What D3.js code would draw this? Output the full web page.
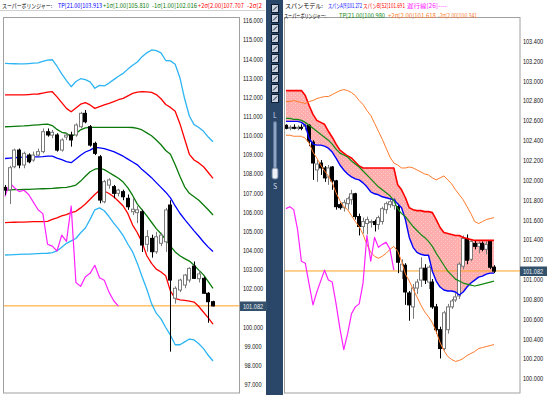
<!DOCTYPE html>
<html>
<head>
<meta charset="utf-8">
<script src="https://cdn.jsdelivr.net/npm/d3@7"></script>
<style>
html, body { margin: 0; padding: 0; background: #fff; }
svg { display: block; font-family: "Noto Sans CJK JP", "DejaVu Sans", sans-serif; }
</style>
</head>
<body>
<svg id="chart" width="547" height="395"></svg>
<script>
// ---- left panel (daily, super bollinger) ----
const leftOpen  = [107.27,107.15,108.35,109.22,108.44,108.96,108.70,108.96,109.14,110.18,110.00,110.01,109.22,109.90,110.01,110.01,110.44,111.14,110.44,109.57,108.87,106.52,107.39,107.31,106.96,107.05,106.70,106.00,105.95,106.00,104.30,104.61,103.91,104.35,104.43,106.35,101.48,101.91,102.17,102.43,103.16,102.50,102.52,101.74,101.30];
const leftHigh  = [107.39,108.40,109.30,109.30,109.14,109.05,109.14,109.30,110.35,110.35,110.27,110.10,109.84,110.10,110.18,110.62,111.22,111.31,110.53,109.66,108.96,107.66,107.75,107.40,107.20,107.15,106.90,106.70,106.30,106.10,105.04,104.80,104.95,104.90,106.20,106.60,102.10,102.50,102.75,103.10,103.40,102.95,102.60,101.80,101.35];
const leftLow   = [106.87,106.40,108.27,108.27,108.27,108.53,108.61,108.90,109.05,109.92,109.84,109.14,109.14,109.75,109.40,109.92,110.35,110.62,109.40,108.96,106.44,106.44,107.20,106.70,106.80,106.60,106.10,105.83,105.40,103.90,103.91,103.60,103.80,104.20,103.90,98.69,101.20,101.80,102.00,102.30,102.50,102.30,101.74,100.20,101.05];
const leftClose = [107.13,108.30,109.22,108.44,109.05,108.61,108.96,109.14,110.18,110.01,110.15,109.22,109.75,110.00,109.75,110.53,111.14,110.70,109.48,109.05,106.61,107.57,107.66,106.96,107.13,106.78,106.26,106.13,106.10,104.26,104.70,103.91,104.69,104.78,106.09,102.43,102.00,102.43,102.69,103.04,102.52,102.75,101.74,101.30,101.08];

const leftPlus3  = [113.75,113.74,113.73,113.72,113.72,113.74,113.76,113.78,113.85,113.92,113.94,113.6,113.2,112.85,112.53,112.8,112.95,112.9,112.78,112.45,112.6,112.57,112.72,112.9,113.08,113.23,113.45,113.65,113.82,114.1,114.3,114.45,114.42,114.3,113.9,113.88,113.7,113.0,111.9,111.0,110.55,110.4,110.2,109.9,109.66];
const leftPlus2  = [112.1,112.1,112.1,112.1,112.1,112.12,112.14,112.15,112.2,112.25,112.27,112.0,111.7,111.4,111.22,111.42,111.62,111.7,111.58,111.4,111.49,111.58,111.66,111.75,111.85,111.92,112.05,112.18,112.25,112.27,112.26,112.23,112.12,111.9,111.6,111.45,111.25,110.6,109.8,109.0,108.7,108.55,108.35,108.05,107.74];
const leftPlus1  = [110.44,110.45,110.46,110.47,110.48,110.5,110.52,110.54,110.56,110.58,110.5,110.3,110.15,110.1,109.92,110.08,110.28,110.38,110.41,110.41,110.41,110.41,110.41,110.41,110.41,110.41,110.41,110.4,110.35,110.27,110.12,109.97,109.75,109.5,109.2,109.0,108.45,107.85,107.3,106.96,106.78,106.6,106.35,106.1,105.83];
const leftTP     = [108.78,108.8,108.82,108.84,108.85,108.86,108.87,108.87,108.88,108.9,108.9,108.8,108.72,108.62,108.56,108.75,108.95,109.12,109.22,109.36,109.33,109.3,109.22,109.14,109.02,108.9,108.75,108.6,108.45,108.2,108.0,107.78,107.52,107.27,107.02,106.72,106.3,105.92,105.6,105.3,105.0,104.72,104.42,104.15,103.92];
const leftMinus1 = [107.13,107.14,107.15,107.15,107.16,107.17,107.18,107.19,107.2,107.21,107.22,107.24,107.26,107.27,107.32,107.39,107.6,107.85,108.09,108.22,108.27,108.2,108.05,107.9,107.75,107.55,107.25,106.85,106.4,106.1,105.78,105.45,105.12,104.85,104.55,104.2,103.9,103.7,103.55,103.42,103.2,102.95,102.7,102.35,102.0];
const leftMinus2 = [105.43,105.44,105.45,105.46,105.46,105.47,105.48,105.48,105.48,105.5,105.6,105.68,105.78,105.85,105.95,106.02,106.2,106.4,106.65,106.9,107.12,107.08,106.95,106.78,106.55,106.3,105.9,105.3,104.9,104.4,103.7,103.3,103.0,102.85,102.65,101.85,101.47,101.4,101.37,101.33,101.28,101.05,100.75,100.45,100.13];
const leftMinus3 = [103.74,103.75,103.76,103.77,103.78,103.79,103.8,103.81,103.82,103.83,103.86,103.95,104.15,104.35,104.48,104.6,104.9,105.15,105.6,106.1,106.2,106.05,105.75,105.4,105.1,104.75,104.3,103.9,103.3,102.6,101.95,101.2,100.7,100.4,99.95,99.55,99.05,99.05,99.2,99.35,99.3,99.1,98.85,98.5,98.2];
const leftLag    = [106.8,107.5,107.25,107.05,107.12,106.9,106.5,106.1,105.9,104.3,104.2,103.95,104.78,104.45,106.3,102.3,102.1,102.6,102.78,103.2,102.55,102.42,101.8,101.35,101.07];
// 101.000 is hidden under the price tag in the picture
const leftTicks  = [97, 98, 99, 100, 102, 103, 104, 105, 106, 107, 108, 109, 110, 111, 112, 113, 114, 115, 116];

// ---- right panel (span model + super bollinger) ----
const rightOpen  = [102.55,102.52,102.53,102.52,102.53,102.54,102.55,102.38,102.10,102.17,102.12,102.03,102.13,101.99,101.75,101.72,101.76,101.80,101.86,101.63,101.53,101.56,101.57,101.58,101.55,101.58,101.70,101.75,101.74,101.73,101.08,101.14,100.86,100.72,100.91,100.99,101.11,100.97,100.97,100.72,100.49,100.30,100.49,100.72,100.79,100.83,101.13,101.41,101.20,101.36,101.33,101.36,101.30,101.38,101.12];
const rightHigh  = [102.56,102.55,102.56,102.55,102.56,102.58,102.56,102.40,102.20,102.20,102.14,102.15,102.14,102.00,101.77,101.80,101.83,101.90,101.87,101.66,101.62,101.63,101.60,101.60,101.64,101.73,101.78,101.80,101.82,101.76,101.20,101.16,100.88,100.95,101.00,101.22,101.15,101.14,101.00,100.75,100.52,100.68,100.75,100.80,100.86,101.17,101.44,101.45,101.40,101.39,101.38,101.38,101.38,101.39,101.14];
const rightLow   = [102.51,102.50,102.51,102.50,102.50,102.50,102.34,102.00,101.98,102.05,101.98,101.95,101.90,101.70,101.70,101.68,101.70,101.75,101.60,101.44,101.46,101.45,101.52,101.48,101.50,101.55,101.66,101.72,101.70,101.06,101.00,100.74,100.58,100.60,100.85,100.92,100.95,100.90,100.70,100.45,100.20,100.28,100.45,100.70,100.77,100.80,101.10,101.15,101.18,101.30,101.26,101.28,101.25,101.10,101.06];
const rightClose = [102.52,102.53,102.52,102.53,102.52,102.55,102.39,102.17,102.16,102.12,102.02,102.12,101.99,101.73,101.72,101.77,101.81,101.86,101.63,101.53,101.58,101.60,101.58,101.55,101.62,101.71,101.76,101.78,101.80,101.17,101.15,100.87,100.74,100.91,100.97,101.11,100.99,101.12,100.72,100.49,100.30,100.66,100.72,100.78,100.82,101.15,101.41,101.19,101.38,101.33,101.36,101.30,101.35,101.12,101.08];

const spanA = [102.59,102.59,102.59,102.59,102.58,102.55,102.42,102.36,102.35,102.35,102.34,102.32,102.28,102.22,102.15,102.1,102.06,102.03,102.01,102.0,101.97,101.93,101.88,101.86,101.85,101.83,101.82,101.81,101.8,101.76,101.72,101.6,101.42,101.32,101.27,101.25,101.24,101.24,101.08,100.98,100.92,100.89,100.88,100.88,100.87,100.84,100.87,100.92,100.96,100.99,101.02,101.03,101.05,101.06,101.06];
const spanB = [102.9,102.9,102.9,102.9,102.9,102.85,102.75,102.66,102.6,102.58,102.56,102.49,102.43,102.36,102.3,102.27,102.24,102.22,102.18,102.14,102.12,102.12,102.12,102.12,102.12,102.12,102.12,102.12,102.12,101.95,101.9,101.82,101.72,101.7,101.69,101.69,101.68,101.68,101.67,101.6,101.52,101.47,101.46,101.45,101.44,101.44,101.42,101.41,101.4,101.39,101.39,101.39,101.39,101.39,101.39];
const rightTP = [102.62,102.62,102.61,102.61,102.6,102.58,102.55,102.52,102.49,102.46,102.43,102.4,102.36,102.31,102.27,102.25,102.23,102.19,102.16,102.13,102.09,102.05,102.01,101.97,101.93,101.9,101.87,101.84,101.79,101.71,101.66,101.63,101.58,101.53,101.49,101.45,101.42,101.38,101.33,101.26,101.2,101.14,101.08,101.04,101.0,100.98,100.96,100.95,100.94,100.93,100.94,100.95,100.96,100.97,100.98];
const rightPlus2 = [102.79,102.79,102.8,102.79,102.78,102.77,102.79,102.8,102.82,102.83,102.84,102.84,102.86,102.88,102.9,102.91,102.9,102.88,102.85,102.8,102.76,102.7,102.65,102.57,102.49,102.41,102.32,102.23,102.17,102.15,102.12,102.12,102.13,102.12,102.1,102.08,102.06,102.05,102.02,102.0,102.02,102.04,102.0,101.96,101.9,101.85,101.8,101.73,101.66,101.58,101.56,101.58,101.6,101.61,101.62];
const rightMinus2 = [102.45,102.45,102.44,102.44,102.44,102.42,102.37,102.28,102.22,102.15,102.09,102.04,101.97,101.87,101.79,101.73,101.7,101.64,101.58,101.53,101.45,101.35,101.27,101.23,101.21,101.23,101.26,101.3,101.33,101.28,101.18,101.05,100.98,100.9,100.82,100.74,100.67,100.62,100.56,100.47,100.36,100.28,100.22,100.19,100.17,100.18,100.2,100.23,100.25,100.27,100.3,100.31,100.32,100.33,100.34];
const rightLag = [101.71,101.73,101.7,101.5,101.18,101.16,100.95,100.74,100.87,100.98,101.09,100.99,100.97,100.75,100.5,100.29,100.45,100.65,100.72,100.75,100.96,101.44,101.18,101.42,101.32,101.35,101.37,101.3,101.09];
const rightTicks = d3.range(0, 18).map(i => +(100 + i * 0.2).toFixed(1));

const lastPrice = 101.082;

const svg = d3.select('#chart');
const fmt = d3.format('.3f');

const defs = svg.append('defs');
const pat = defs.append('pattern').attr('id', 'cloudDots').attr('width', 4).attr('height', 4).attr('patternUnits', 'userSpaceOnUse');
pat.append('rect').attr('width', 4).attr('height', 4).attr('fill', '#ffadad');
pat.append('rect').attr('x', 1).attr('y', 1).attr('width', 1).attr('height', 1).attr('fill', '#ffcccc');
pat.append('rect').attr('x', 3).attr('y', 3).attr('width', 1).attr('height', 1).attr('fill', '#ffcccc');
defs.append('clipPath').attr('id', 'clipL').append('rect').attr('x', 4).attr('y', 18).attr('width', 235).attr('height', 375);
defs.append('clipPath').attr('id', 'clipR').append('rect').attr('x', 285).attr('y', 18).attr('width', 235).attr('height', 375);

// frames
svg.append('rect').attr('x', 3.5).attr('y', 17.5).attr('width', 236).attr('height', 375.5).attr('fill', '#fff').attr('stroke', '#a0a0a0');
svg.append('rect').attr('x', 284.5).attr('y', 17.5).attr('width', 235.5).attr('height', 375.5).attr('fill', '#fff').attr('stroke', '#a0a0a0');
svg.append('line').attr('x1', 0).attr('x2', 265).attr('y1', 10.5).attr('y2', 10.5).attr('stroke', '#d0d0d0');

// toolbar strip between the panels
const bar = svg.append('g');
bar.append('rect').attr('x', 266).attr('y', 0).attr('width', 17).attr('height', 395).attr('fill', '#2a4668');
d3.range(10).forEach(k => {
  const y = 4 + k * 10;
  bar.append('rect').attr('x', 271.5).attr('y', y + 0.5).attr('width', 7).attr('height', 8).attr('fill', '#c9d2de').attr('stroke', '#0c1c33');
  bar.append('path').attr('d', `M273,${y + 6.5}L277,${y + 2.5}`).attr('stroke', '#0c1c33').attr('stroke-width', 1);
});
bar.append('text').attr('x', 275).attr('y', 118).attr('text-anchor', 'middle').attr('font-size', 7).attr('fill', '#cfd8e6').text('L');
bar.append('rect').attr('x', 273.5).attr('y', 121.5).attr('width', 3).attr('height', 56).attr('rx', 1.5).attr('fill', '#8fa6c4').attr('stroke', '#5d7699');
bar.append('rect').attr('x', 272).attr('y', 168).attr('width', 6).attr('height', 11).attr('rx', 2).attr('fill', '#eef2f7').attr('stroke', '#6a7f9c');
bar.append('text').attr('x', 275).attr('y', 189).attr('text-anchor', 'middle').attr('font-size', 7).attr('fill', '#cfd8e6').text('S');

// condensed header text: squeeze each piece into the width it has in the picture
function headText(g, x, y, str, color, len) {
  const t = g.append('text').attr('font-size', 6.2).attr('fill', color).text(str);
  const w = t.node().getComputedTextLength();
  t.attr('transform', `translate(${x},${y}) scale(${(len / w).toFixed(3)},1)`);
}

function drawCandles(g, x, y, o, h, l, c, w) {
  const idx = d3.range(c.length);
  g.selectAll('line.wick').data(idx).join('line')
    .attr('x1', i => Math.round(x(i)) + 0.5).attr('x2', i => Math.round(x(i)) + 0.5)
    .attr('y1', i => y(h[i])).attr('y2', i => y(l[i]))
    .attr('stroke', i => c[i] < o[i] ? '#000' : '#7a7a7a').attr('stroke-width', 1);
  g.selectAll('rect.body').data(idx).join('rect')
    .attr('x', i => Math.round(x(i)) - (w - 1) / 2)
    .attr('y', i => y(Math.max(o[i], c[i])))
    .attr('width', w - 1)
    .attr('height', i => Math.max(1, Math.abs(y(o[i]) - y(c[i]))))
    .attr('fill', i => c[i] < o[i] ? '#000' : '#fff')
    .attr('stroke', i => c[i] < o[i] ? '#000' : '#7a7a7a').attr('stroke-width', 1);
}

function drawLine(g, x, y, values, color, width) {
  const line = d3.line().x((d, i) => x(i)).y(d => y(d));
  g.append('path').attr('d', line(values)).attr('fill', 'none').attr('stroke', color).attr('stroke-width', width).attr('stroke-linejoin', 'round');
}

function priceAxis(xPos, y, ticks) {
  const axis = d3.axisRight(y).tickValues(ticks).tickFormat(fmt).tickSize(0).tickPadding(0);
  const ag = svg.append('g').attr('transform', `translate(${xPos},0)`).call(axis);
  ag.select('.domain').remove();
  ag.selectAll('text').attr('x', 0).attr('dy', '0.35em').attr('text-anchor', 'middle').attr('fill', '#111')
    .attr('font-family', 'Liberation Sans').attr('font-size', 7)
    .attr('transform', 'scale(0.8,1)');
  return ag;
}

function priceTag(xPos, y) {
  const yy = Math.round(y(lastPrice));
  const g = svg.append('g');
  g.append('rect').attr('x', xPos - 13).attr('y', yy - 4.5).attr('width', 27).attr('height', 9.5).attr('fill', '#34516b');
  g.append('text').attr('transform', `translate(${xPos},${yy + 2.5}) scale(0.8,1)`).attr('text-anchor', 'middle')
    .attr('font-family', 'Liberation Sans').attr('font-size', 7).attr('fill', '#e8eef5').text(fmt(lastPrice));
}

// ---------------- left panel ----------------
const lx = d3.scaleLinear().domain([0, leftClose.length - 1]).range([5, 213]);
const ly = d3.scaleLinear().domain([97, 116]).range([384, 20.3]);
const gl = svg.append('g').attr('clip-path', 'url(#clipL)');

gl.append('line').attr('x1', 4).attr('x2', 240).attr('y1', ly(lastPrice)).attr('y2', ly(lastPrice)).attr('stroke', '#ffa020').attr('stroke-width', 1);
drawLine(gl, lx, ly, leftPlus3, '#2db4f4', 1.3);
drawLine(gl, lx, ly, leftMinus3, '#2db4f4', 1.3);
drawLine(gl, lx, ly, leftPlus2, '#ff0000', 1.3);
drawLine(gl, lx, ly, leftMinus2, '#ff0000', 1.3);
drawLine(gl, lx, ly, leftPlus1, '#0a7a0a', 1.3);
drawLine(gl, lx, ly, leftMinus1, '#0a7a0a', 1.3);
drawLine(gl, lx, ly, leftTP, '#0000ff', 1.3);
drawLine(gl, lx, ly, leftLag, '#ff22ff', 1.2);
drawCandles(gl.append('g'), lx, ly, leftOpen, leftHigh, leftLow, leftClose, 4);

priceAxis(253, ly, leftTicks);
priceTag(253, ly);

const hl = svg.append('g');
headText(hl, 2, 8, 'スーパーボリンジャー:', '#000', 50);
headText(hl, 58, 8, 'TP[21.00]103.913', '#0000ff', 44);
headText(hl, 103, 8, '+1σ[1.00]105.810', '#0a7a0a', 46);
headText(hl, 152, 8, '-1σ[1.00]102.016', '#0a7a0a', 45);
headText(hl, 198, 8, '+2σ[2.00]107.707', '#ff0000', 46);
// the picture cuts this piece off at the panel edge
headText(hl, 247, 8, '-2σ[2', '#ff0000', 15);

// ---------------- right panel ----------------
const rx = d3.scaleLinear().domain([0, rightClose.length - 1]).range([286, 494]);
const ry = d3.scaleLinear().domain([100, 103.4]).range([378.3, 41]);
const gr = svg.append('g').attr('clip-path', 'url(#clipR)');

const cloud = d3.area().x((d, i) => rx(i)).y0((d, i) => ry(spanA[i])).y1((d, i) => ry(spanB[i]));
gr.append('path').attr('d', cloud(spanA)).attr('fill', 'url(#cloudDots)');
gr.append('line').attr('x1', 285).attr('x2', 520).attr('y1', ry(lastPrice)).attr('y2', ry(lastPrice)).attr('stroke', '#ffa020').attr('stroke-width', 1);
drawCandles(gr.append('g'), rx, ry, rightOpen, rightHigh, rightLow, rightClose, 4);
drawLine(gr, rx, ry, spanB, '#ff0000', 1.6);
drawLine(gr, rx, ry, spanA, '#0000ff', 1.4);
drawLine(gr, rx, ry, rightPlus2, '#ff7a2a', 1);
drawLine(gr, rx, ry, rightMinus2, '#ff7a2a', 1);
drawLine(gr, rx, ry, rightTP, '#138a13', 1.2);
drawLine(gr, rx, ry, rightLag, '#ff22ff', 1.2);

priceAxis(533, ry, rightTicks);
priceTag(533, ry);

const hr = svg.append('g');
headText(hr, 285, 7.7, 'スパンモデル:', '#000', 38);
headText(hr, 328, 7.7, 'スパンA[9]101.272', '#0000ff', 34);
headText(hr, 363, 7.7, 'スパンB[52]101.691', '#ff0000', 42);
headText(hr, 407, 7.7, '遅行線[26]----', '#ff22ff', 40);
headText(hr, 284, 17.5, 'スーパーボリンジャー:', '#000', 42);
headText(hr, 339, 17.5, 'TP[21.00]100.980', '#138a13', 46);
headText(hr, 388, 17.5, '+2σ[2.00]101.618', '#ff7a2a', 48);
headText(hr, 438, 17.5, '-2σ[2.00]100.341', '#ff7a2a', 39);
</script>
</body>
</html>
